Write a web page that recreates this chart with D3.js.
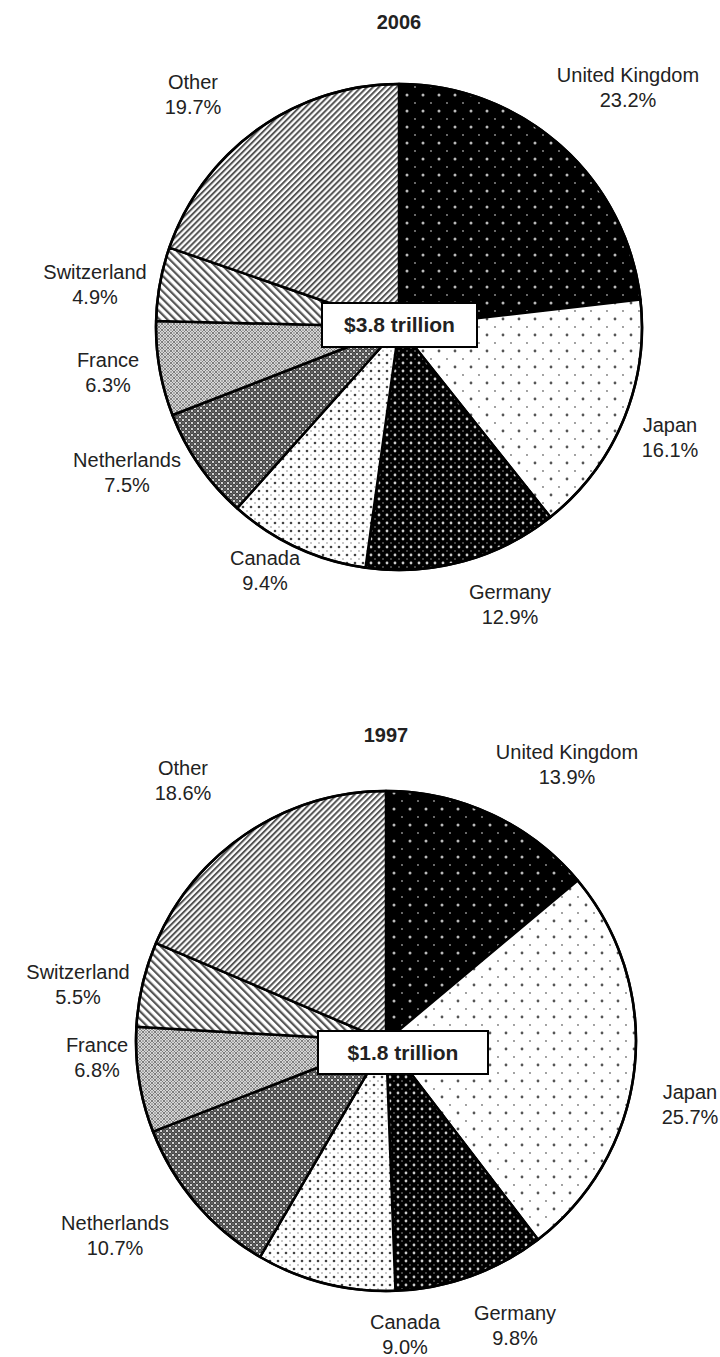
<!DOCTYPE html>
<html>
<head>
<meta charset="utf-8">
<script src="https://cdn.jsdelivr.net/npm/d3@7"></script>
<style>
  body { margin: 0; background: #fff; }
  svg text { font-family: "Liberation Sans", Arial, sans-serif; fill: #222; }
</style>
</head>
<body>
<div id="chart"></div>
<script>
// values (percent of total)
const countries = ['United Kingdom', 'Japan', 'Germany', 'Canada', 'Netherlands', 'France', 'Switzerland', 'Other'];
const shares2006 = [23.2, 16.1, 12.9, 9.4, 7.5, 6.3, 4.9, 19.7];
const shares1997 = [13.9, 25.7, 9.8, 9.0, 10.7, 6.8, 5.5, 18.6];
const years = ['2006', '1997'];
const totals = ['$3.8 trillion', '$1.8 trillion'];

const w = 720;
const h = 1357;

// layout for each pie: centre, radius, label offsets from centre, box
const layouts = [
  {
    cx: 399, cy: 327, r: 243, titleY: 22,
    box: { x: -77, y: -24, w: 155, h: 44 },
    labels: [[229, -252], [271, 98], [111, 265], [-134, 231], [-272, 133], [-291, 33], [-304, -55], [-206, -245]]
  },
  {
    cx: 386, cy: 1041, r: 250, titleY: 735,
    box: { x: -68, y: -10, w: 170, h: 43 },
    labels: [[181, -289], [304, 51], [129, 272], [19, 281], [-271, 182], [-289, 4], [-308, -69], [-203, -273]]
  }
];

const svg = d3.select('#chart')
  .append('svg')
  .attr('width', w)
  .attr('height', h);

const defs = svg.append('defs');

function dotPattern(id, size, bg, dots) {
  const p = defs.append('pattern')
    .attr('id', id)
    .attr('patternUnits', 'userSpaceOnUse')
    .attr('width', size)
    .attr('height', size);
  p.append('rect').attr('width', size).attr('height', size).attr('fill', bg);
  dots.forEach(d => {
    p.append('circle').attr('cx', d[0]).attr('cy', d[1]).attr('r', d[2]).attr('fill', d[3]);
  });
}

function stripePattern(id, size, angle, color, bw) {
  const p = defs.append('pattern')
    .attr('id', id)
    .attr('patternUnits', 'userSpaceOnUse')
    .attr('width', size)
    .attr('height', size)
    .attr('patternTransform', 'rotate(' + angle + ')');
  p.append('rect').attr('width', size).attr('height', size).attr('fill', '#fff');
  p.append('rect').attr('width', bw).attr('height', size).attr('fill', color);
}

function hatchPattern(id, size, bg, line, lw, dot, dr) {
  const p = defs.append('pattern')
    .attr('id', id)
    .attr('patternUnits', 'userSpaceOnUse')
    .attr('width', size)
    .attr('height', size);
  p.append('rect').attr('width', size).attr('height', size).attr('fill', bg);
  p.append('path')
    .attr('d', `M0,0L${size},${size}M${size},0L0,${size}`)
    .attr('stroke', line)
    .attr('stroke-width', lw);
  p.append('circle').attr('cx', size / 2).attr('cy', 0).attr('r', dr).attr('fill', dot);
  p.append('circle').attr('cx', size / 2).attr('cy', size).attr('r', dr).attr('fill', dot);
  p.append('circle').attr('cx', 0).attr('cy', size / 2).attr('r', dr).attr('fill', dot);
  p.append('circle').attr('cx', size).attr('cy', size / 2).attr('r', dr).attr('fill', dot);
}

dotPattern('pUK', 16, '#000', [[8, 8, 1.5, '#bbb'], [0, 0, 0.9, '#999'], [16, 0, 0.9, '#999'], [0, 16, 0.9, '#999'], [16, 16, 0.9, '#999']]);
dotPattern('pJP', 16, '#fff', [[8, 8, 1.4, '#555'], [0, 0, 0.9, '#777'], [16, 0, 0.9, '#777'], [0, 16, 0.9, '#777'], [16, 16, 0.9, '#777']]);
dotPattern('pDE', 8, '#000', [[4, 4, 1.4, '#ccc'], [0, 0, 0.8, '#999'], [8, 0, 0.8, '#999'], [0, 8, 0.8, '#999'], [8, 8, 0.8, '#999']]);
dotPattern('pCA', 8, '#fff', [[4, 4, 1.3, '#444'], [0, 0, 0.8, '#888'], [8, 0, 0.8, '#888'], [0, 8, 0.8, '#888'], [8, 8, 0.8, '#888']]);
hatchPattern('pNL', 6, '#222', '#666', 1.4, '#fff', 1.1);
hatchPattern('pFR', 6, '#fff', '#777', 1.1, '#444', 0.8);
stripePattern('pCH', 5.5, -45, '#555', 2.2);
stripePattern('pOT', 4.2, 45, '#555', 2.0);

const fills = ['url(#pUK)', 'url(#pJP)', 'url(#pDE)', 'url(#pCA)', 'url(#pNL)', 'url(#pFR)', 'url(#pCH)', 'url(#pOT)'];

const pie = d3.pie().sort(null).value(d => d);
const fmt = d3.format('.1f');

[shares2006, shares1997].forEach((shares, k) => {
  const L = layouts[k];
  const arc = d3.arc().innerRadius(0).outerRadius(L.r);

  svg.append('text')
    .attr('x', L.cx)
    .attr('y', L.titleY)
    .attr('dy', '0.35em')
    .attr('text-anchor', 'middle')
    .attr('font-weight', 'bold')
    .attr('font-size', 20)
    .text(years[k]);

  const g = svg.append('g')
    .attr('transform', `translate(${L.cx},${L.cy})`);

  g.selectAll('path.slice')
    .data(pie(shares))
    .enter()
    .append('path')
    .attr('class', 'slice')
    .attr('d', arc)
    .attr('fill', (d, i) => fills[i])
    .attr('stroke', '#000')
    .attr('stroke-width', 2.5)
    .attr('stroke-linejoin', 'round');

  g.append('circle')
    .attr('r', L.r)
    .attr('fill', 'none')
    .attr('stroke', '#000')
    .attr('stroke-width', 2.5);

  g.append('rect')
    .attr('x', L.box.x)
    .attr('y', L.box.y)
    .attr('width', L.box.w)
    .attr('height', L.box.h)
    .attr('fill', '#fff')
    .attr('stroke', '#000')
    .attr('stroke-width', 2);

  g.append('text')
    .attr('x', L.box.x + L.box.w / 2)
    .attr('y', L.box.y + L.box.h / 2)
    .attr('dy', '0.35em')
    .attr('text-anchor', 'middle')
    .attr('font-weight', 'bold')
    .attr('font-size', 21)
    .text(totals[k]);

  const lab = g.selectAll('text.label')
    .data(shares)
    .enter()
    .append('text')
    .attr('class', 'label')
    .attr('text-anchor', 'middle')
    .attr('font-size', 20)
    .attr('transform', (d, i) => `translate(${L.labels[i][0]},${L.labels[i][1]})`);

  lab.append('tspan')
    .attr('x', 0)
    .attr('dy', '0.35em')
    .text((d, i) => countries[i]);

  lab.append('tspan')
    .attr('x', 0)
    .attr('dy', 25)
    .text(d => fmt(d) + '%');
});
</script>
</body>
</html>
